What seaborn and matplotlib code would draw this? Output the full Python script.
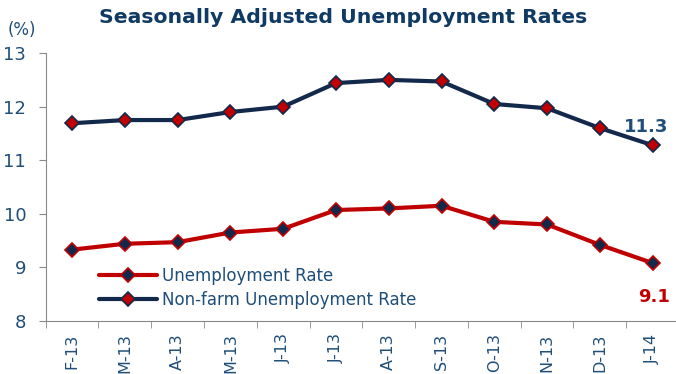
import numpy as np
import pandas as pd
import matplotlib
matplotlib.use('Agg')
import matplotlib.pyplot as plt
import seaborn as sns

# data
months = ['F-13', 'M-13', 'A-13', 'M-13', 'J-13', 'J-13', 'A-13', 'S-13', 'O-13', 'N-13', 'D-13', 'J-14']
unemp = [9.33, 9.44, 9.47, 9.65, 9.72, 10.07, 10.10, 10.15, 9.85, 9.80, 9.42, 9.08]
nonfarm = [11.69, 11.75, 11.75, 11.90, 12.00, 12.44, 12.50, 12.47, 12.05, 11.97, 11.60, 11.28]

navy = '#13294B'
red = '#C00000'
txt = '#1F4E79'

sns.set_style('white')
plt.rcParams['font.family'] = ['DejaVu Sans']

df = pd.DataFrame({'pos': np.arange(len(months)), 'unemp': unemp, 'nonfarm': nonfarm})

fig = plt.figure(figsize=(6.76, 3.74), dpi=100)
ax = fig.add_axes([0.0675, 0.142, 0.937, 0.716])

sns.lineplot(x='pos', y='unemp', data=df, ax=ax, color=red, lw=3, marker='D', ms=7,
             markerfacecolor=navy, markeredgecolor=red, markeredgewidth=1.2,
             label='Unemployment Rate', clip_on=False)
sns.lineplot(x='pos', y='nonfarm', data=df, ax=ax, color=navy, lw=3, marker='D', ms=7,
             markerfacecolor=red, markeredgecolor=navy, markeredgewidth=1.2,
             label='Non-farm Unemployment Rate', clip_on=False)

ax.set_xlim(-0.5, len(months) - 0.5)
ax.set_ylim(8, 13)
ax.set_yticks(range(8, 14))
ax.set_xticks(range(len(months)))
ax.set_xticklabels(months, rotation=90, fontsize=11.5, color=txt)
ax.set_xticks(np.arange(-0.5, len(months), 1), minor=True)
ax.tick_params(axis='x', which='major', length=0, pad=9)
ax.tick_params(axis='x', which='minor', length=5, color='#888888', direction='out', bottom=True)
ax.tick_params(axis='y', length=5, color='#888888', direction='out', left=True, labelsize=13, labelcolor=txt, pad=9)
ax.set_xlabel('')
ax.set_ylabel('')
for s in ['top', 'right']:
    ax.spines[s].set_visible(False)
for s in ['left', 'bottom']:
    ax.spines[s].set_color('#888888')

ax.legend(loc='lower left', bbox_to_anchor=(0.06, -0.01), frameon=False, fontsize=12,
          handlelength=3.5, handletextpad=0.3, labelspacing=0.35, labelcolor=txt)

ax.text(len(months) - 1.12, 11.62, '11.3', color=txt, fontsize=13, fontweight='bold', ha='center', va='center')
ax.text(len(months) - 0.98, 8.45, '9.1', color=red, fontsize=13, fontweight='bold', ha='center', va='center')

fig.text(0.507, 0.952, 'Seasonally Adjusted Unemployment Rates', ha='center', va='center',
         fontsize=14.7, fontweight='bold', color='#0F3A63')
fig.text(0.033, 0.92, '(%)', ha='center', va='center', fontsize=12, color=txt)

fig.savefig('out.png', dpi=100)
